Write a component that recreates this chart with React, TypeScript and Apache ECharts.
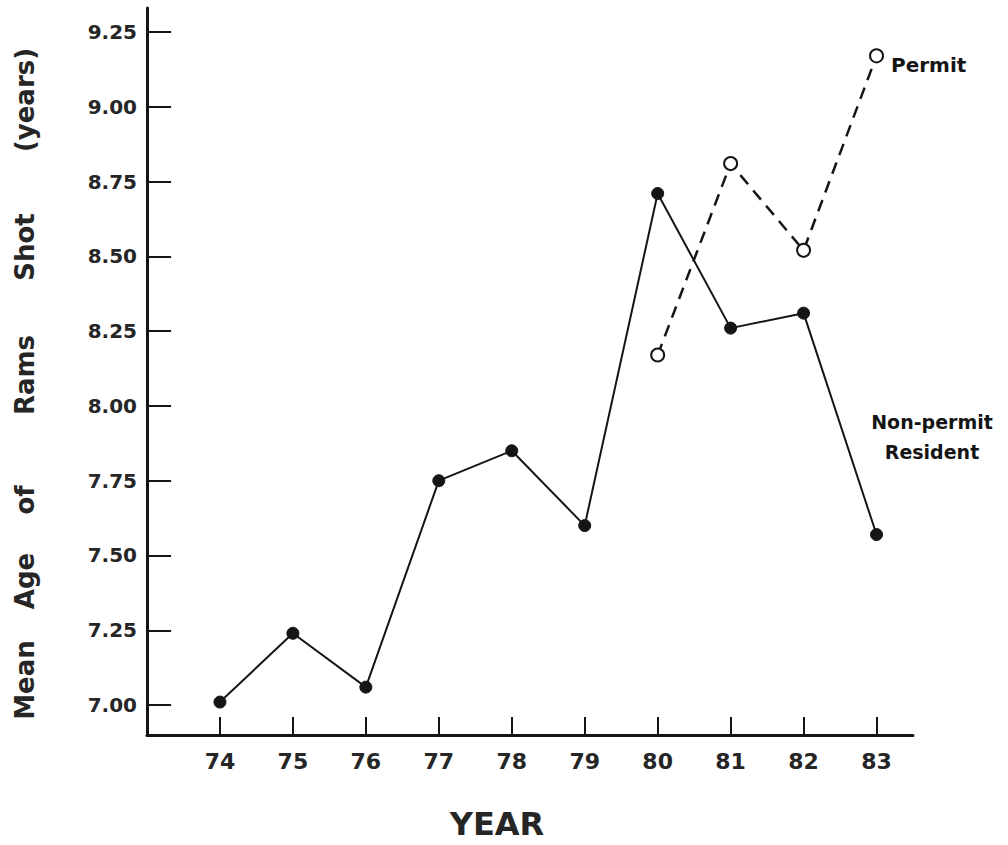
import React, { useEffect, useRef } from "react";
import * as echarts from "echarts";

const years = [74, 75, 76, 77, 78, 79, 80, 81, 82, 83];
const nonPermit = [7.01, 7.24, 7.06, 7.75, 7.85, 7.6, 8.71, 8.26, 8.31, 7.57];
const permitYears = [80, 81, 82, 83];
const permit = [8.17, 8.81, 8.52, 9.17];
const yTicks = [7.0, 7.25, 7.5, 7.75, 8.0, 8.25, 8.5, 8.75, 9.0, 9.25];
const yTitleWords = ["Mean", "Age", "of", "Rams", "Shot", "(years)"];
const xTitle = "YEAR";
const permitLabel = "Permit";
const nonPermitLabel = "Non-permit\nResident";

const X_MIN = 73;
const X_MAX = 83.5;
const Y_MIN = 6.9;
const Y_MAX = 9.33;
// tick lengths expressed in axis units (≈24px horizontally, ≈18px vertically)
const Y_TICK_LEN = 0.33;
const X_TICK_LEN = 0.06;

const FONT = "DejaVu Sans";
const INK = "#151515";
const TEXT = "#262626";

export default function App() {
  const ref = useRef<HTMLDivElement>(null);

  useEffect(() => {
    if (!ref.current) return;
    const chart = echarts.init(ref.current, undefined, { renderer: "svg" });

    const wordCenters = [680, 581, 500, 375, 247, 100];

    const tickLines = [
      ...yTicks.map((v) => [{ coord: [X_MIN, v] }, { coord: [X_MIN + Y_TICK_LEN, v] }]),
      ...years.map((v) => [{ coord: [v, Y_MIN] }, { coord: [v, Y_MIN + X_TICK_LEN] }]),
    ];

    const option: any = {
      animation: false,
      backgroundColor: "#ffffff",
      grid: { left: 147, right: 95, top: 8, bottom: 110, containLabel: false },
      xAxis: {
        type: "value",
        min: X_MIN,
        max: X_MAX,
        axisLine: { show: true, lineStyle: { color: INK, width: 3 } },
        axisTick: { show: false },
        axisLabel: {
          show: true,
          customValues: years,
          margin: 15,
          fontSize: 22,
          fontWeight: "bold",
          fontFamily: FONT,
          color: TEXT,
          formatter: (v: number) => String(v),
        },
        splitLine: { show: false },
      },
      yAxis: {
        type: "value",
        min: Y_MIN,
        max: Y_MAX,
        axisLine: { show: true, lineStyle: { color: INK, width: 3 } },
        axisTick: { show: false },
        axisLabel: {
          show: true,
          customValues: yTicks,
          margin: 10,
          fontSize: 20,
          fontWeight: "bold",
          fontFamily: FONT,
          color: TEXT,
          formatter: (v: number) => v.toFixed(2),
        },
        splitLine: { show: false },
      },
      series: [
        {
          name: "Non-permit Resident",
          type: "line",
          data: years.map((y, i) => [y, nonPermit[i]]),
          symbol: "circle",
          symbolSize: 12,
          itemStyle: { color: INK, borderColor: INK },
          lineStyle: { color: INK, width: 2 },
          z: 3,
          markLine: {
            silent: true,
            symbol: ["none", "none"],
            label: { show: false },
            emphasis: { disabled: true },
            lineStyle: { color: INK, width: 2, type: "solid" },
            data: tickLines,
          },
        },
        {
          name: "Permit",
          type: "line",
          data: permitYears.map((y, i) => {
            const d: any = { value: [y, permit[i]] };
            if (i === permitYears.length - 1) {
              d.label = {
                show: true,
                position: "right",
                distance: 7,
                offset: [0, 9],
                formatter: permitLabel,
                fontSize: 20,
                fontWeight: "bold",
                fontFamily: FONT,
                color: INK,
              };
            }
            return d;
          }),
          symbol: "circle",
          symbolSize: 13,
          itemStyle: { color: "#ffffff", borderColor: INK, borderWidth: 2 },
          lineStyle: { color: INK, width: 2.5, type: [12, 8] },
          z: 4,
        },
      ],
      graphic: [
        ...yTitleWords.map((w, i) => ({
          type: "text",
          x: 25,
          y: wordCenters[i],
          rotation: Math.PI / 2,
          style: {
            text: w,
            x: 0,
            y: 0,
            align: "center",
            verticalAlign: "middle",
            textAlign: "center",
            textVerticalAlign: "middle",
            fontSize: 26,
            fontWeight: "bold",
            fontFamily: FONT,
            fill: TEXT,
          },
        })),
        {
          type: "text",
          x: 497,
          y: 824,
          style: {
            text: xTitle,
            x: 0,
            y: 0,
            align: "center",
            verticalAlign: "middle",
            textAlign: "center",
            textVerticalAlign: "middle",
            fontSize: 32,
            fontWeight: "bold",
            fontFamily: FONT,
            fill: TEXT,
          },
        },
        {
          type: "text",
          x: 932,
          y: 437,
          style: {
            text: nonPermitLabel,
            x: 0,
            y: 0,
            align: "center",
            verticalAlign: "middle",
            textAlign: "center",
            textVerticalAlign: "middle",
            lineHeight: 30,
            fontSize: 19,
            fontWeight: "bold",
            fontFamily: FONT,
            fill: INK,
          },
        },
      ],
    };

    chart.setOption(option);
    return () => chart.dispose();
  }, []);

  return (
    <div
      ref={ref}
      style={{ position: "fixed", left: 0, top: 0, width: 1008, height: 845, background: "#fff" }}
    />
  );
}
